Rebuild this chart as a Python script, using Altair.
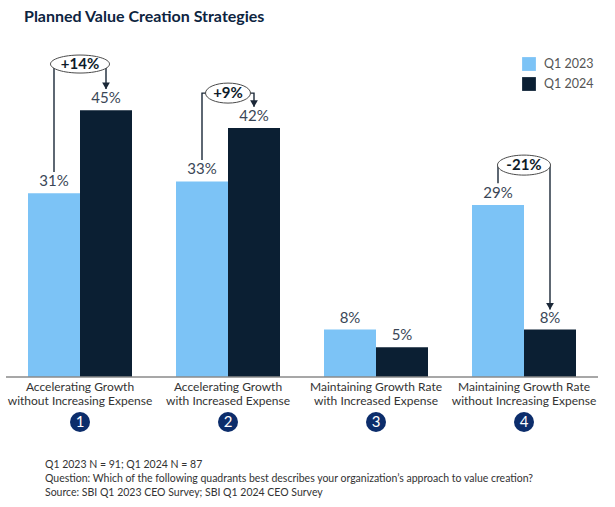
import altair as alt
import pandas as pd

# ---------------- data ----------------
categories = [
    "Accelerating Growth\nwithout Increasing Expense",
    "Accelerating Growth\nwith Increased Expense",
    "Maintaining Growth Rate\nwith Increased Expense",
    "Maintaining Growth Rate\nwithout Increasing Expense",
]
numbers = ["1", "2", "3", "4"]
series = ["Q1 2023", "Q1 2024"]
values_2023 = [31, 33, 8, 29]
values_2024 = [45, 42, 5, 8]
change_labels = ["+14%", "+9%", None, "-21%"]

title_text = "Planned Value Creation Strategies"
footnotes = [
    "Q1 2023 N = 91; Q1 2024 N = 87",
    "Question: Which of the following quadrants best describes your organization\u2019s approach to value creation?",
    "Source: SBI Q1 2023 CEO Survey; SBI Q1 2024 CEO Survey",
]

# ---------------- layout / style ----------------
W, H = 592, 326
YMAX = 55
GROUP_PX = W / len(categories)
BAR_W = 52 / GROUP_PX            # bar width in group units
FONT = "Lato"
LIGHT, DARK = "#7cc3f6", "#0b1f33"
# annotation geometry per group: (ellipse level, left line start, arrow end, ellipse w px, ellipse h px)
ann_geom = {0: (52.8, 34.6, 48.6, 59, 18), 1: (47.9, 36.6, 45.6, 45, 20), 3: (35.75, 32.7, 11.4, 53, 20)}

rows = []
for i, cat in enumerate(categories):
    c = i + 0.5
    rows.append(dict(cat=cat, series=series[0], x=c - BAR_W, x2=c, value=values_2023[i]))
    rows.append(dict(cat=cat, series=series[1], x=c, x2=c + BAR_W, value=values_2024[i]))
bars = pd.DataFrame(rows)
bars["center"] = (bars["x"] + bars["x2"]) / 2
bars["label"] = bars["value"].astype(str) + "%"

groups = pd.DataFrame(dict(cat=categories, num=numbers, center=[i + 0.5 for i in range(len(categories))]))
one = pd.DataFrame([dict(title=title_text, foot="\n".join(footnotes))])

xs = alt.Scale(domain=[0, len(categories)], nice=False, zero=False)
ys = alt.Scale(domain=[0, YMAX], nice=False)

base = alt.Chart(bars)

bar_layer = base.mark_bar().encode(
    x=alt.X("x:Q", scale=xs, axis=None),
    x2="x2:Q",
    y=alt.Y("value:Q", scale=ys, axis=None),
    y2=alt.datum(0),
    color=alt.Color(
        "series:N",
        scale=alt.Scale(domain=series, range=[LIGHT, DARK]),
        legend=alt.Legend(
            title=None, orient="none", legendX=516, legendY=6,
            symbolType="square", symbolSize=190, symbolStrokeWidth=0,
            labelFont=FONT, labelFontSize=12.5, labelColor="#555555",
            labelOffset=8, rowPadding=6,
        ),
    ),
)

value_text = base.mark_text(font=FONT, fontSize=15, color="#3a4656", baseline="bottom", dy=-4).encode(
    x=alt.X("center:Q", scale=xs), y=alt.Y("value:Q", scale=ys), text="label:N"
)

axis_line = alt.Chart(one).mark_rule(color="#8a8a8a", strokeWidth=1.5).encode(
    x=alt.datum(0, scale=xs), x2=alt.datum(len(categories)), y=alt.datum(0, scale=ys)
)

cat_text = alt.Chart(groups).mark_text(
    font=FONT, fontSize=12, color="#333333", baseline="top", dy=5, lineBreak="\n", lineHeight=14
).encode(x=alt.X("center:Q", scale=xs), y=alt.datum(0, scale=ys), text="cat:N")

circles = alt.Chart(groups).mark_point(shape="circle", filled=True, opacity=1, size=400, color="#0c2d6b", yOffset=45).encode(
    x=alt.X("center:Q", scale=xs), y=alt.datum(0, scale=ys)
)
circle_num = alt.Chart(groups).mark_text(font=FONT, fontSize=15, color="white", baseline="middle", dy=45).encode(
    x=alt.X("center:Q", scale=xs), y=alt.datum(0, scale=ys), text="num:N"
)

# annotation paths
path_rows, ell_layers, heads = [], [], []
for i, lab in enumerate(change_labels):
    if lab is None:
        continue
    lvl, start, end, ew, eh = ann_geom[i]
    c = i + 0.5
    lc, rc = c - BAR_W / 2, c + BAR_W / 2
    pts_l = [(lc, start), (lc, lvl), (c, lvl)]
    pts_r = [(c, lvl), (rc, lvl), (rc, end)]
    for k, (px, py) in enumerate(pts_l):
        path_rows.append(dict(pid=f"l{i}", o=k, px=px, py=py))
    for k, (px, py) in enumerate(pts_r):
        path_rows.append(dict(pid=f"r{i}", o=k, px=px, py=py))
    heads.append(dict(px=rc, py=end))
    r = eh / ew
    k = 0.5523
    shape = (f"M-1,0 C-1,{-k*r:.4f} {-k:.4f},{-r:.4f} 0,{-r:.4f} C{k:.4f},{-r:.4f} 1,{-k*r:.4f} 1,0 "
             f"C1,{k*r:.4f} {k:.4f},{r:.4f} 0,{r:.4f} C{-k:.4f},{r:.4f} -1,{k*r:.4f} -1,0 Z")
    edf = pd.DataFrame([dict(px=c, py=lvl, lab=lab)])
    ell_layers.append(alt.Chart(edf).mark_point(shape=shape, size=ew * ew, filled=True, fill="white", stroke="#4a4a4a",
                                                strokeWidth=1, opacity=1).encode(
        x=alt.X("px:Q", scale=xs), y=alt.Y("py:Q", scale=ys)))
    ell_layers.append(alt.Chart(edf).mark_text(font=FONT, fontSize=15, fontWeight="bold", color="#0d1b2a",
                                               baseline="middle").encode(
        x=alt.X("px:Q", scale=xs), y=alt.Y("py:Q", scale=ys), text="lab:N"))

paths = alt.Chart(pd.DataFrame(path_rows)).mark_line(color="#1b2838", strokeWidth=1.4).encode(
    x=alt.X("px:Q", scale=xs), y=alt.Y("py:Q", scale=ys), detail="pid:N", order="o:Q"
)
arrowheads = alt.Chart(pd.DataFrame(heads)).mark_point(shape="triangle-down", filled=True, size=60, color="#1b2838",
                                                       opacity=1, yOffset=-3).encode(
    x=alt.X("px:Q", scale=xs), y=alt.Y("py:Q", scale=ys)
)

title = alt.Chart(one).mark_text(font=FONT, fontSize=16, fontWeight="bold", color="#0d2440", align="left",
                                 baseline="alphabetic").encode(
    x=alt.value(18), y=alt.value(-29), text="title:N"
)
foot = alt.Chart(one).mark_text(font=FONT, fontSize=10.5, color="#333333", align="left", baseline="middle",
                                lineBreak="\n", lineHeight=14).encode(
    x=alt.value(39), y=alt.value(88 + H), text="foot:N"
)

chart = alt.layer(
    bar_layer, paths, arrowheads, *ell_layers, value_text, axis_line, cat_text, circles, circle_num, title, foot
).properties(
    width=W, height=H, padding={"left": 6, "top": 51, "right": 17, "bottom": 130},
    autosize=alt.AutoSizeParams(type="none"),
).configure_view(stroke=None)

chart.save("out.html", embed_options={"renderer": "svg", "actions": False})
